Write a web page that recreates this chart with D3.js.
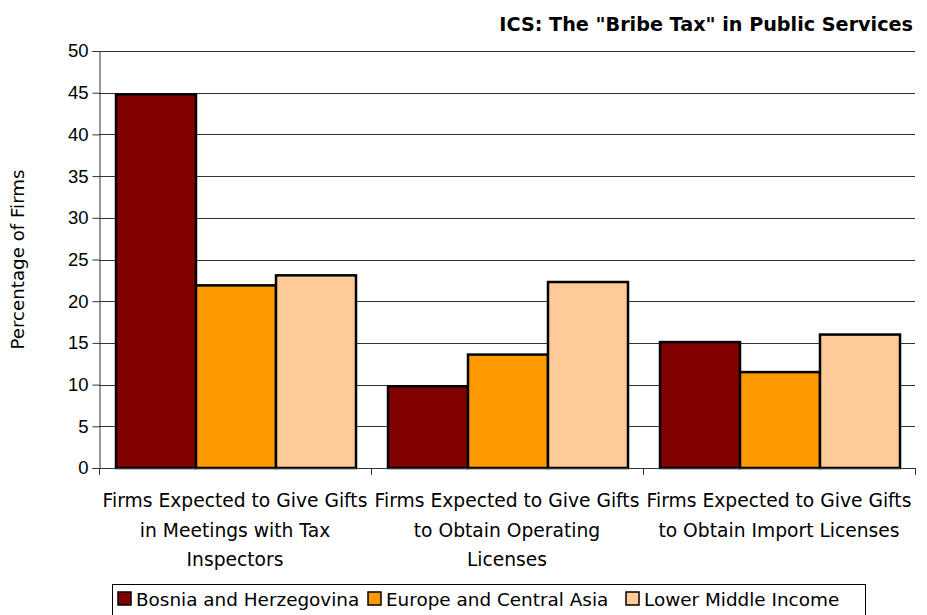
<!DOCTYPE html>
<html>
<head>
<meta charset="utf-8">
<script src="https://cdn.jsdelivr.net/npm/d3@7"></script>
<style>
  body { margin: 0; background: #fff; }
  svg { display: block; font-family: Tahoma, "DejaVu Sans", sans-serif; }
</style>
</head>
<body>
<div id="chart"></div>
<script>
const categories = [
    ["Firms Expected to Give Gifts", "in Meetings with Tax", "Inspectors"],
    ["Firms Expected to Give Gifts", "to Obtain Operating", "Licenses"],
    ["Firms Expected to Give Gifts", "to Obtain Import Licenses"]
];
const seriesNames = ["Bosnia and Herzegovina", "Europe and Central Asia", "Lower Middle Income"];
const seriesColors = ["#800000", "#ff9900", "#ffcc99"];
const bosnia = [44.8, 9.8, 15.1];
const europe = [21.9, 13.6, 11.5];
const lowerMiddle = [23.1, 22.3, 16.0];
const yTicks = [0, 5, 10, 15, 20, 25, 30, 35, 40, 45, 50];

const series = [bosnia, europe, lowerMiddle];

const width = 927, height = 615;
const margin = { left: 99, right: 12, top: 51, bottom: 147 };

const svg = d3.select("#chart").append("svg")
    .attr("width", width)
    .attr("height", height);

// Escalas
const x0 = d3.scaleBand()
    .domain(d3.range(categories.length))
    .range([margin.left, width - margin.right])
    .paddingInner(0)
    .paddingOuter(0);

const x1 = d3.scaleBand()
    .domain(d3.range(series.length))
    .range([0, x0.bandwidth()])
    .paddingOuter(0.2);

const y = d3.scaleLinear()
    .domain([0, 50])
    .range([height - margin.bottom, margin.top]);

// Lineas de la grilla
svg.append("g")
    .selectAll("line")
    .data(yTicks.filter(d => d > 0))
    .enter()
    .append("line")
    .attr("x1", margin.left)
    .attr("x2", width - margin.right)
    .attr("y1", d => Math.round(y(d)) + 0.5)
    .attr("y2", d => Math.round(y(d)) + 0.5)
    .attr("stroke", "#333")
    .attr("stroke-width", 1);

// Eje Y
const yAxis = svg.append("g")
    .attr("transform", `translate(${margin.left + 0.5},0)`)
    .call(d3.axisLeft(y).tickValues(yTicks).tickSize(7).tickPadding(4));
yAxis.select(".domain").attr("stroke", "#333");
yAxis.selectAll(".tick line").attr("stroke", "#333");
yAxis.selectAll("text")
    .style("font-size", "18.5px")
    .attr("fill", "#000");

// Barras
const groups = svg.append("g")
    .selectAll("g")
    .data(categories.map((c, i) => i))
    .enter()
    .append("g")
    .attr("transform", i => `translate(${x0(i)},0)`);

groups.selectAll("rect")
    .data(i => series.map((s, k) => ({ k: k, value: s[i] })))
    .enter()
    .append("rect")
    .attr("x", d => x1(d.k) + 1)
    .attr("y", d => y(d.value))
    .attr("width", x1.bandwidth())
    .attr("height", d => y(0) - y(d.value))
    .attr("fill", d => seriesColors[d.k])
    .attr("stroke", "#000")
    .attr("stroke-width", 2.5);

// Eje X
const xAxisY = y(0);
svg.append("line")
    .attr("x1", margin.left)
    .attr("x2", width - margin.right)
    .attr("y1", Math.round(xAxisY) + 0.5)
    .attr("y2", Math.round(xAxisY) + 0.5)
    .attr("stroke", "#333");

svg.append("g")
    .selectAll("line")
    .data(d3.range(categories.length + 1))
    .enter()
    .append("line")
    .attr("x1", i => Math.round(margin.left + i * x0.bandwidth()) + 0.5)
    .attr("x2", i => Math.round(margin.left + i * x0.bandwidth()) + 0.5)
    .attr("y1", xAxisY)
    .attr("y2", xAxisY + 7)
    .attr("stroke", "#333");

// Etiquetas de categorias
const catLabels = svg.append("g")
    .selectAll("text")
    .data(categories)
    .enter()
    .append("text")
    .attr("x", (d, i) => x0(i) + x0.bandwidth() / 2)
    .attr("y", 507)
    .attr("text-anchor", "middle")
    .style("font-size", "18.7px");

catLabels.selectAll("tspan")
    .data(d => d)
    .enter()
    .append("tspan")
    .attr("x", function () { return d3.select(this.parentNode).attr("x"); })
    .attr("dy", (d, i) => i === 0 ? 0 : 29.5)
    .text(d => d);

// Titulo eje Y
svg.append("text")
    .attr("transform", `translate(24,${(margin.top + height - margin.bottom) / 2}) rotate(-90)`)
    .attr("text-anchor", "middle")
    .style("font-size", "18.2px")
    .text("Percentage of Firms");

// Titulo
svg.append("text")
    .attr("x", 913)
    .attr("y", 31)
    .attr("text-anchor", "end")
    .style("font-size", "19.2px")
    .style("font-weight", "bold")
    .text("ICS: The \"Bribe Tax\" in Public Services");

// Leyenda
const legend = svg.append("g");
legend.append("rect")
    .attr("x", 112.5)
    .attr("y", 584.5)
    .attr("width", 753)
    .attr("height", 35)
    .attr("fill", "#fff")
    .attr("stroke", "#000");

const legendX = [118, 368, 626];
const items = legend.selectAll("g.item")
    .data(seriesNames)
    .enter()
    .append("g")
    .attr("class", "item")
    .attr("transform", (d, i) => `translate(${legendX[i]},592)`);

items.append("rect")
    .attr("width", 13)
    .attr("height", 13)
    .attr("fill", (d, i) => seriesColors[i])
    .attr("stroke", "#000")
    .attr("stroke-width", 1.5);

items.append("text")
    .attr("x", 18)
    .attr("y", 14)
    .style("font-size", "18.4px")
    .text(d => d);
</script>
</body>
</html>
